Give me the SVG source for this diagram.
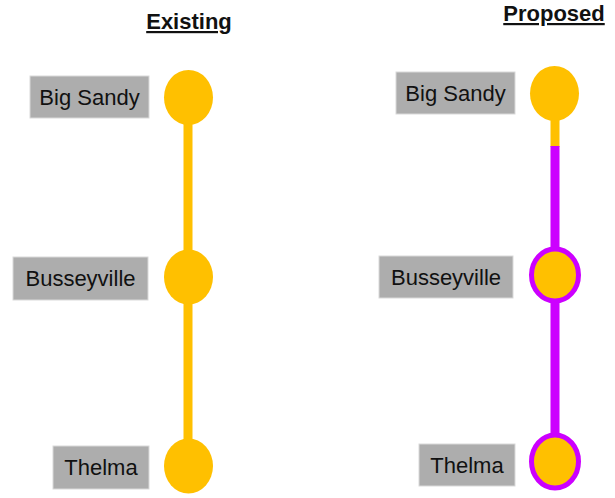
<svg xmlns="http://www.w3.org/2000/svg" width="615" height="498" viewBox="0 0 615 498">
<style>
.t{font-family:"Liberation Sans",Arial,sans-serif;font-size:22px;fill:#111;text-anchor:middle}
.h{font-family:"Liberation Sans",Arial,sans-serif;font-size:22px;font-weight:bold;fill:#111;text-decoration:underline;text-anchor:middle}
.lab{fill:#ADADAD;stroke:#D9D9D9;stroke-width:1}
.st{fill:#FFC000}
.pst{fill:#FFC000;stroke:#CC00FF;stroke-width:5}
.y{stroke:#FFC000;stroke-width:9}
.p{stroke:#CC00FF;stroke-width:9}
</style>
<rect width="615" height="498" fill="#fff"/>
<text class="h" x="189" y="29">Existing</text>
<text class="h" x="554" y="21">Proposed</text>
<g id="connectors">
<line class="y" x1="188" y1="98" x2="188" y2="466"/>
<line class="y" x1="555" y1="94" x2="555" y2="147"/>
<line class="p" x1="555" y1="146" x2="555" y2="461"/>
</g>
<g id="ex-bigsandy">
<rect class="lab" x="30" y="76" width="119" height="42"/>
<text class="t" x="89.5" y="105">Big Sandy</text>
<ellipse class="st" cx="188.5" cy="97.5" rx="24.5" ry="27.5"/>
</g>
<g id="ex-busseyville">
<rect class="lab" x="13" y="257" width="135" height="43"/>
<text class="t" x="80.5" y="286">Busseyville</text>
<ellipse class="st" cx="188.5" cy="277" rx="24.5" ry="27.5"/>
</g>
<g id="ex-thelma">
<rect class="lab" x="53" y="446" width="96" height="43"/>
<text class="t" x="101" y="475">Thelma</text>
<ellipse class="st" cx="188.5" cy="466" rx="24.5" ry="27.5"/>
</g>
<g id="pr-bigsandy">
<rect class="lab" x="396" y="72" width="119" height="42"/>
<text class="t" x="455.5" y="101">Big Sandy</text>
<ellipse class="st" cx="554.5" cy="93.5" rx="24.5" ry="27.5"/>
</g>
<g id="pr-busseyville">
<rect class="lab" x="379" y="256" width="134" height="42"/>
<text class="t" x="446" y="285">Busseyville</text>
<ellipse class="pst" cx="555" cy="275" rx="23.5" ry="26"/>
</g>
<g id="pr-thelma">
<rect class="lab" x="419" y="444" width="96" height="42"/>
<text class="t" x="467" y="473">Thelma</text>
<ellipse class="pst" cx="555" cy="461.5" rx="23.5" ry="26.5"/>
</g>
</svg>
